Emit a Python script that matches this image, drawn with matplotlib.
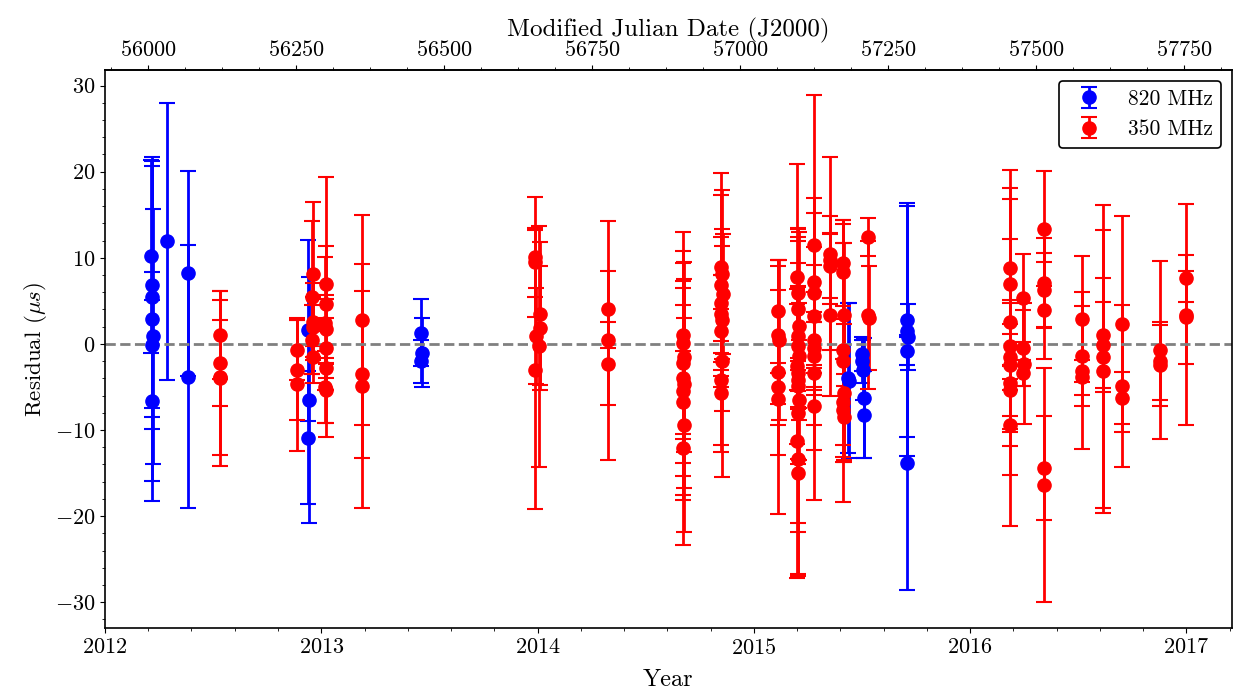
import numpy as np
import matplotlib
matplotlib.use("Agg")
import matplotlib.pyplot as plt
from matplotlib.ticker import MultipleLocator, AutoMinorLocator, FixedLocator

plt.rcParams['font.family'] = 'serif'
plt.rcParams['font.serif'] = ['cmr10']
plt.rcParams['mathtext.fontset'] = 'cm'
plt.rcParams['axes.formatter.use_mathtext'] = True
plt.rcParams['font.size'] = 16
plt.rcParams['axes.linewidth'] = 1.2

# 820 MHz residuals (year, residual in us, error in us)
yr_820 = [2012.214, 2012.216, 2012.218, 2012.216, 2012.220, 2012.218, 2012.216,
          2012.285, 2012.385, 2012.385,
          2012.940, 2012.942, 2012.940,
          2013.462, 2013.464, 2013.462,
          2015.436, 2015.440,
          2015.500, 2015.502, 2015.505, 2015.507, 2015.508,
          2015.708, 2015.710, 2015.712, 2015.708, 2015.710]
res_820 = [10.2, 6.9, 5.4, 2.9, 0.9, -0.1, -6.6,
           11.9, 8.2, -3.8,
           1.6, -6.5, -10.9,
           1.3, -1.0, -2.0,
           -4.0, -4.3,
           -1.2, -2.0, -3.0, -6.3, -8.2,
           2.8, 1.5, 0.8, -0.8, -13.8]
err_820 = [11.2, 14.4, 15.3, 18.8, 14.8, 8.4, 11.7,
           16.1, 11.9, 15.3,
           10.5, 14.3, 7.7,
           3.9, 4.0, 2.5,
           8.7, 9.0,
           2.0, 2.5, 3.5, 7.0, 5.0,
           13.6, 14.5, 3.8, 1.6, 14.8]

# 350 MHz residuals
yr_350 = [2012.530, 2012.530, 2012.530, 2012.530,
          2012.888, 2012.890, 2012.888,
          2012.960, 2012.958, 2012.962, 2012.960, 2012.958, 2012.962,
          2013.020, 2013.022, 2013.018, 2013.020, 2013.022, 2013.020, 2013.018, 2013.022,
          2013.190, 2013.190, 2013.190,
          2013.990, 2013.990, 2013.992, 2013.990,
          2014.010, 2014.010, 2014.008,
          2014.326, 2014.326, 2014.326,
          2014.672, 2014.674, 2014.676, 2014.672, 2014.674, 2014.676, 2014.672, 2014.674,
          2014.676, 2014.674,
          2014.846, 2014.852, 2014.848, 2014.856, 2014.850, 2014.846, 2014.854, 2014.850,
          2014.852, 2014.848, 2014.850,
          2015.113, 2015.113, 2015.115, 2015.111, 2015.113, 2015.113,
          2015.200, 2015.203, 2015.206, 2015.208, 2015.202, 2015.205, 2015.207, 2015.200,
          2015.204, 2015.206, 2015.202, 2015.208, 2015.204, 2015.200, 2015.205, 2015.203,
          2015.278, 2015.276, 2015.280, 2015.278, 2015.276, 2015.280, 2015.278, 2015.276,
          2015.280,
          2015.352, 2015.350, 2015.354, 2015.352,
          2015.413, 2015.411, 2015.415, 2015.413, 2015.411, 2015.415, 2015.413, 2015.411,
          2015.415,
          2015.529, 2015.529, 2015.531,
          2016.184, 2016.186, 2016.182, 2016.184, 2016.186, 2016.182, 2016.184, 2016.186,
          2016.182,
          2016.246, 2016.246, 2016.248, 2016.246,
          2016.341, 2016.343, 2016.341, 2016.343, 2016.341, 2016.343,
          2016.515, 2016.515, 2016.515, 2016.515,
          2016.616, 2016.616, 2016.616, 2016.616,
          2016.702, 2016.702, 2016.702,
          2016.876, 2016.876, 2016.876,
          2017.000, 2017.000, 2017.000]
res_350 = [1.0, -2.2, -4.0, -3.9,
           -0.7, -3.0, -4.7,
           8.1, 5.4, 2.6, 2.0, 0.5, -1.5,
           7.0, 4.6, 2.4, 1.7, -0.5, -2.8, -5.0, -5.4,
           2.8, -3.5, -4.9,
           10.1, 9.5, 0.9, -3.0,
           3.5, 1.9, -0.3,
           4.0, 0.4, -2.3,
           1.0, 0.15, -1.5, -2.2, -4.0, -4.6, -5.5, -6.8, -9.4, -12.1,
           8.9, 8.1, 6.8, 5.8, 4.7, 3.5, 2.8, 1.5, -2.0, -4.2, -5.7,
           3.8, 1.0, 0.5, -3.3, -5.0, -6.4,
           7.8, 5.9, 4.0, 2.1, 0.9, -0.3, -1.4, -2.6, -3.4, -4.2, -4.9, -6.5, -8.0,
           -11.3, -13.4, -15.0,
           11.5, 7.2, 5.9, 3.2, 0.5, -0.5, -1.4, -3.4, -7.2,
           10.5, 9.7, 9.1, 3.4,
           9.4, 8.4, 3.4, -0.7, -2.0, -5.7, -6.7, -7.7, -8.5,
           12.4, 3.4, 3.0,
           8.8, 7.0, 2.5, -0.3, -1.5, -2.4, -4.5, -5.4, -9.4,
           5.3, -0.5, -2.3, -3.4,
           13.4, 7.1, 6.3, 3.9, -14.4, -16.4,
           2.9, -1.4, -3.1, -3.9,
           1.0, -0.1, -1.5, -3.2,
           2.3, -4.9, -6.3,
           -0.7, -2.0, -2.5,
           7.6, 3.4, 3.1]
err_350 = [5.1, 5.0, 10.2, 9.0,
           3.5, 5.8, 7.7,
           8.4, 8.9, 4.5, 3.5, 4.0, 3.0,
           12.4, 6.8, 7.7, 4.0, 3.5, 8.0, 4.2, 3.8,
           12.2, 9.7, 14.2,
           7.0, 4.0, 5.6, 16.2,
           8.3, 7.2, 14.0,
           4.5, 13.9, 4.8,
           12.0, 10.6, 11.0, 11.6, 11.3, 12.1, 12.0, 11.3, 12.4, 11.3,
           11.0, 9.8, 10.5, 7.0, 7.7, 4.5, 10.6, 6.5, 13.4, 8.3, 6.0,
           6.0, 8.0, 9.3, 9.6, 14.8, 3.0,
           13.1, 7.5, 9.5, 10.9, 8.5, 7.0, 6.1, 9.0, 10.0, 16.6, 16.9, 7.0, 6.0,
           15.9, 13.3, 12.0,
           17.4, 9.7, 9.3, 6.0, 5.5, 11.8, 4.0, 6.0, 10.9,
           11.2, 5.1, 3.8, 9.4,
           5.0, 5.5, 8.3, 12.4, 16.4, 8.0, 5.0, 6.0, 5.0,
           2.2, 8.6, 6.0,
           11.4, 11.1, 14.3, 5.0, 13.7, 7.5, 5.7, 3.0, 11.7,
           5.1, 4.4, 7.0, 1.5,
           6.7, 5.2, 4.3, 5.6, 6.0, 13.6,
           7.3, 5.8, 9.1, 2.0,
           6.6, 5.0, 17.6, 16.4,
           12.5, 9.4, 3.0,
           10.3, 4.5, 4.7,
           2.7, 12.8, 5.4]

mjd_ticks = [56000, 56250, 56500, 56750, 57000, 57250, 57500, 57750]


def year2mjd(y):
    return 51544.5 + (np.asarray(y) - 2000.0) * 365.25


def mjd2year(m):
    return 2000.0 + (np.asarray(m) - 51544.5) / 365.25


fig = plt.figure(figsize=(12.35, 6.94), dpi=100)
ax = fig.add_axes([0.085, 0.095, 0.9125, 0.804])

ax.errorbar(yr_820, res_820, yerr=err_820, fmt='o', color='blue', ms=9.5,
            elinewidth=2, capsize=6, capthick=1.5, label='820 MHz')
ax.errorbar(yr_350, res_350, yerr=err_350, fmt='o', color='red', ms=9.5,
            elinewidth=2, capsize=6, capthick=1.5, label='350 MHz')
ax.axhline(0, color='gray', ls='--', lw=2)

ax.set_xlim(2012, 2017.21)
ax.set_ylim(-33, 31.8)
ax.xaxis.set_major_locator(MultipleLocator(1))
ax.xaxis.set_minor_locator(AutoMinorLocator())
ax.yaxis.set_major_locator(MultipleLocator(10))
ax.yaxis.set_minor_locator(AutoMinorLocator())
ax.set_xlabel('Year', fontsize=17.5, labelpad=8)
ax.set_ylabel(r'Residual ($\mu s$)', fontsize=16.5)

top = ax.secondary_xaxis('top', functions=(year2mjd, mjd2year))
top.xaxis.set_major_locator(FixedLocator(mjd_ticks))
top.xaxis.set_minor_locator(FixedLocator(np.arange(55937.5, 57850, 62.5)))
top.set_xlabel('Modified Julian Date (J2000)', fontsize=18, labelpad=3)

leg = ax.legend(loc='upper right', fontsize=15.5, framealpha=1)
leg.get_frame().set_edgecolor('black')
leg.get_frame().set_linewidth(1.2)

fig.savefig('out.png', dpi=100)
